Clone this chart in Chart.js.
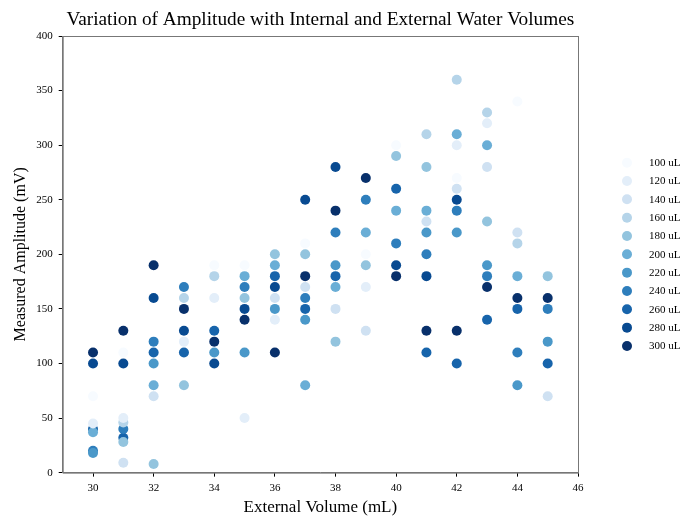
<!DOCTYPE html>
<html>
<head>
<meta charset="utf-8">
<script src="https://cdn.jsdelivr.net/npm/chart.js@4.4.0/dist/chart.umd.min.js"></script>
<style>
  body { margin: 0; background: #fff; }
  #wrap { width: 683px; height: 516px; }
</style>
</head>
<body>
<div id="wrap"><canvas id="ampChart" width="683" height="516"></canvas></div>
<script>
// external volume (mL) on x, measured amplitude (mV) on y
const volumes = [30, 31, 32, 33, 34, 35, 36, 37, 38, 39, 40, 41, 42, 43, 44, 45];
const seriesLabels = ['100 uL', '120 uL', '140 uL', '160 uL', '180 uL', '200 uL', '220 uL', '240 uL', '260 uL', '280 uL', '300 uL'];
const seriesColors = ['#f7fbff', '#e3eef9', '#cfe1f2', '#b5d4e9', '#93c4de', '#6aaed6', '#4a98c9', '#2e7ebc', '#1764ab', '#084a91', '#08306b'];

// one value per external volume, null = no point
const amp100 = [70, 110, null, null, 190, 190, null, 210, null, 200, 300, null, 270, null, 340, null];
const amp120 = [45, 50, null, 120, 160, 50, 140, null, null, 170, null, null, 300, 320, null, null];
const amp140 = [null, 9, 70, null, null, null, 160, 170, 150, 130, null, 230, 260, 280, 220, 70];
const amp160 = [null, 46, null, 160, 180, null, null, null, null, null, null, 310, 360, 330, 210, null];
const amp180 = [null, 28, 8, 80, null, 160, 200, 200, 120, 190, 290, 280, null, 230, null, 180];
const amp200 = [37, null, 80, null, null, 180, 190, 80, 170, 220, 240, 240, 310, 300, 180, null];
const amp220 = [18, null, 100, null, 110, 110, 150, 140, 190, null, null, 220, 220, 190, 80, 120];
const amp240 = [20, 40, 120, 170, null, 170, null, 160, 220, 250, 210, 200, 240, 180, 110, 150];
const amp260 = [40, 32, 110, 110, 130, null, 180, 150, 180, null, 260, 110, 100, 140, 150, 100];
const amp280 = [100, 100, 160, 130, 100, 150, 170, 250, 280, null, 190, 180, 250, null, null, null];
const amp300 = [110, 130, 190, 150, 120, 140, 110, 180, 240, 270, 180, 130, 130, 170, 160, 160];

const allSeries = [amp100, amp120, amp140, amp160, amp180, amp200, amp220, amp240, amp260, amp280, amp300];

const xTicks = [30, 32, 34, 36, 38, 40, 42, 44, 46];
const yTicks = [0, 50, 100, 150, 200, 250, 300, 350, 400];

const chartTitle = 'Variation of Amplitude with Internal and External Water Volumes';
const serif = "'Liberation Serif', 'DejaVu Serif', serif";

// build datasets from the arrays
const datasets = allSeries.map((vals, i) => ({
    label: seriesLabels[i],
    data: volumes.map((v, j) => vals[j] == null ? null : { x: v, y: vals[j] }).filter(p => p),
    backgroundColor: seriesColors[i],
    borderColor: seriesColors[i],
    borderWidth: 0,
    pointRadius: 5,
    pointHoverRadius: 5
}));

// matplotlib style box around the axes + title centred over the axes
const frameBox = {
    id: 'frameBox',
    afterDraw(chart) {
        const a = chart.chartArea;
        const c = chart.ctx;
        c.save();
        c.strokeStyle = '#777';
        c.lineWidth = 1;
        c.strokeRect(a.left + 0.5, a.top + 0.5, a.right - a.left, a.bottom - a.top);
        c.font = '19.3px ' + serif;
        c.fillStyle = '#000';
        c.textAlign = 'center';
        c.textBaseline = 'middle';
        c.fillText(chartTitle, (a.left + a.right) / 2, a.top - 16);
        c.restore();
    }
};

// legend outside the axes, to the right (matplotlib bbox_to_anchor style)
const sideLegend = {
    id: 'sideLegend',
    afterDraw(chart) {
        const c = chart.ctx;
        const a = chart.chartArea;
        const markX = a.right + 49;
        const textX = a.right + 71;
        const step = 18.33;
        const n = chart.data.datasets.length;
        const y0 = (a.top + a.bottom) / 2 - step * (n - 1) / 2;
        c.save();
        c.font = '11px ' + serif;
        c.textBaseline = 'middle';
        chart.data.datasets.forEach((ds, i) => {
            const y = y0 + i * step;
            c.beginPath();
            c.arc(markX, y, 5, 0, Math.PI * 2);
            c.fillStyle = ds.backgroundColor;
            c.fill();
            c.fillStyle = '#000';
            c.fillText(ds.label, textX, y + 0.5);
        });
        c.restore();
    }
};

const ctx = document.getElementById('ampChart').getContext('2d');
new Chart(ctx, {
    type: 'scatter',
    data: { datasets: datasets },
    options: {
        responsive: false,
        animation: false,
        layout: { padding: { left: 11, right: 105, top: 36, bottom: 0 } },
        plugins: {
            title: { display: false },
            legend: { display: false },
            tooltip: { enabled: false }
        },
        scales: {
            x: {
                type: 'linear',
                min: 29,
                max: 46,
                afterBuildTicks: axis => { axis.ticks = xTicks.map(v => ({ value: v })); },
                grid: { display: true, drawOnChartArea: false, drawTicks: true, tickLength: 4, color: '#000' },
                border: { display: true, color: '#777' },
                ticks: { color: '#000', font: { family: serif, size: 11 }, padding: 5, maxRotation: 0 },
                title: { display: true, text: 'External Volume (mL)', color: '#000', font: { family: serif, size: 17, lineHeight: 0.95 }, padding: { top: 0, bottom: 0 } }
            },
            y: {
                type: 'linear',
                min: 0,
                max: 400,
                afterBuildTicks: axis => { axis.ticks = yTicks.map(v => ({ value: v })); },
                grid: { display: true, drawOnChartArea: false, drawTicks: true, tickLength: 4, color: '#000' },
                border: { display: true, color: '#777' },
                ticks: { color: '#000', font: { family: serif, size: 11 }, padding: 6 },
                title: { display: true, text: 'Measured Amplitude (mV)', color: '#000', font: { family: serif, size: 16 }, padding: { top: 0, bottom: 0 } }
            }
        }
    },
    plugins: [frameBox, sideLegend]
});
</script>
</body>
</html>
